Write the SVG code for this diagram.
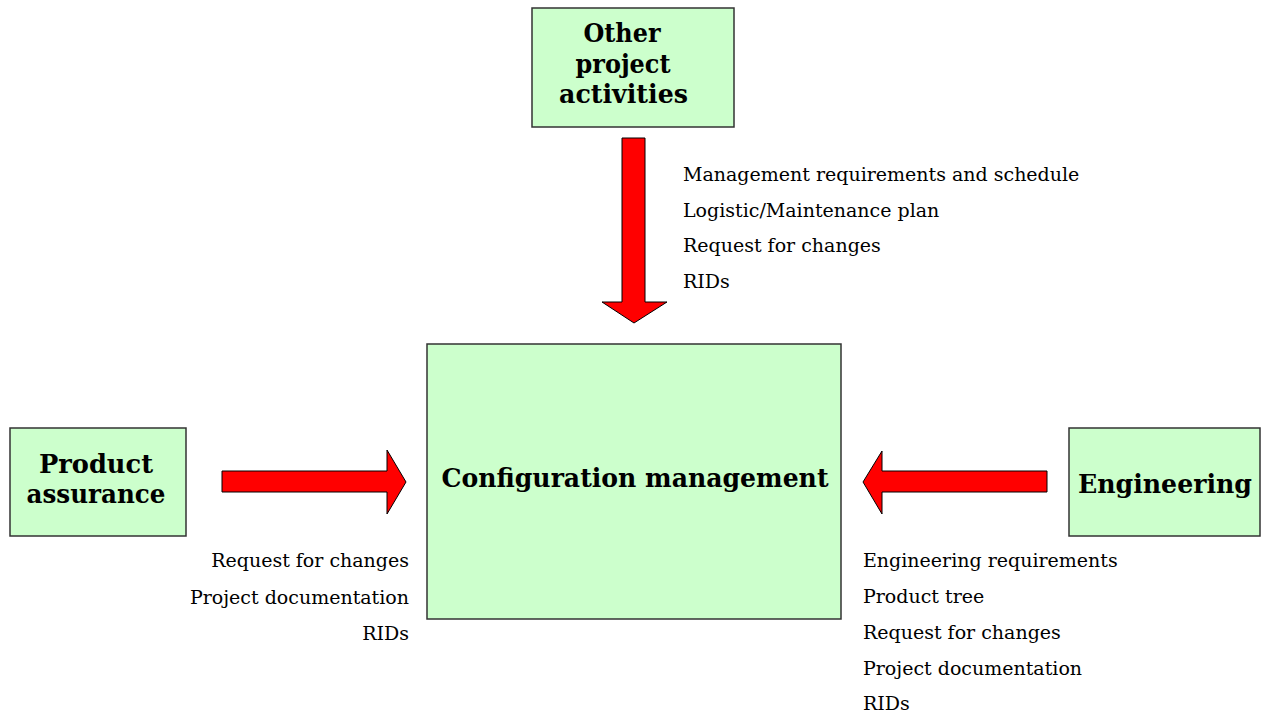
<svg xmlns="http://www.w3.org/2000/svg" width="1261" height="715" viewBox="0 0 1261 715">
<style>
.box{fill:#ccffcc;stroke:#333;stroke-width:1.5}
.arrow{fill:#ff0000;stroke:#000;stroke-width:1}
.title{font-family:"DejaVu Serif","Liberation Serif",serif;font-weight:bold;font-size:26px;fill:#000}
.lbl{font-family:"DejaVu Serif","Liberation Serif",serif;font-size:19px;fill:#000}
</style>
<rect width="1261" height="715" fill="#fff"/>
<g id="connectors">
<polygon class="arrow" points="622,138 645,138 645,302 667,302 634,323 602,302 622,302"/>
<polygon class="arrow" points="222,471 387,471 387,450 406,482 387,514 387,492 222,492"/>
<polygon class="arrow" points="1047,471 882,471 882,451 863,482 882,514 882,492 1047,492"/>
</g>
<g id="other">
<rect class="box" x="532" y="8" width="202" height="119"/>
<text class="title" text-anchor="middle" x="622" y="42" textLength="77" lengthAdjust="spacingAndGlyphs">Other</text>
<text class="title" text-anchor="middle" x="623" y="73" textLength="95" lengthAdjust="spacingAndGlyphs">project</text>
<text class="title" text-anchor="middle" x="623.5" y="103" textLength="129" lengthAdjust="spacingAndGlyphs">activities</text>
</g>
<g id="other-labels">
<text class="lbl" x="683" y="181">Management requirements and schedule</text>
<text class="lbl" x="683" y="216.5">Logistic/Maintenance plan</text>
<text class="lbl" x="683" y="252">Request for changes</text>
<text class="lbl" x="683" y="288">RIDs</text>
</g>
<g id="pa">
<rect class="box" x="10" y="428" width="176" height="108"/>
<text class="title" text-anchor="middle" x="96" y="473" textLength="114" lengthAdjust="spacingAndGlyphs">Product</text>
<text class="title" text-anchor="middle" x="96" y="503" textLength="139" lengthAdjust="spacingAndGlyphs">assurance</text>
</g>
<g id="pa-labels">
<text class="lbl" text-anchor="end" x="409" y="567">Request for changes</text>
<text class="lbl" text-anchor="end" x="409" y="603.5">Project documentation</text>
<text class="lbl" text-anchor="end" x="409" y="640">RIDs</text>
</g>
<g id="cm">
<rect class="box" x="427" y="344" width="414" height="275"/>
<text class="title" text-anchor="middle" x="635" y="487" textLength="387" lengthAdjust="spacingAndGlyphs">Configuration management</text>
</g>
<g id="eng">
<rect class="box" x="1069" y="428" width="191" height="108"/>
<text class="title" text-anchor="middle" x="1165" y="493" textLength="174" lengthAdjust="spacingAndGlyphs">Engineering</text>
</g>
<g id="eng-labels">
<text class="lbl" x="863" y="567">Engineering requirements</text>
<text class="lbl" x="863" y="603">Product tree</text>
<text class="lbl" x="863" y="639">Request for changes</text>
<text class="lbl" x="863" y="675">Project documentation</text>
<text class="lbl" x="863" y="710">RIDs</text>
</g>
</svg>
